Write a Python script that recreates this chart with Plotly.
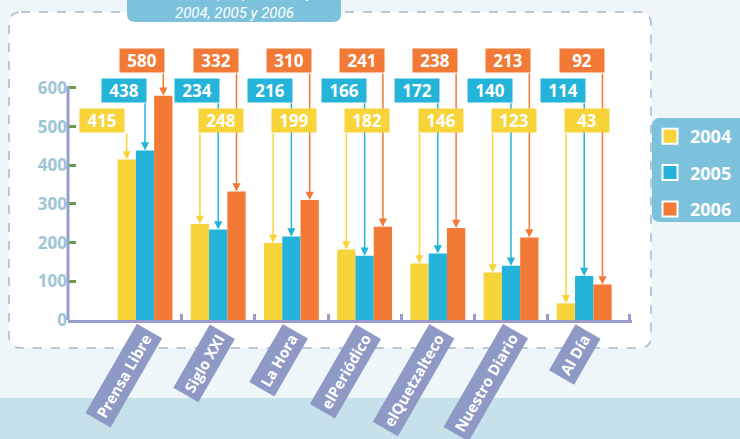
import plotly.graph_objects as go

categories = ["Prensa Libre", "Siglo XXI", "La Hora", "elPeriódico", "elQuetzalteco", "Nuestro Diario", "Al Día"]
years = ["2004", "2005", "2006"]
v2004 = [415, 248, 199, 182, 146, 123, 43]
v2005 = [438, 234, 216, 166, 172, 140, 114]
v2006 = [580, 332, 310, 241, 238, 213, 92]
yticks = [0, 100, 200, 300, 400, 500, 600]

colors = ["#f6d43a", "#25b4d9", "#f27a36"]
series = [v2004, v2005, v2006]

W, H = 740, 439
L, R, T, B = 68, 108, 26, 119
PW, PH = W - L - R, H - T - B
FONT = "Open Sans, Lato, sans-serif"


def pxx(x):
    return (x - L) / PW


def pxy(y):
    return (H - B - y) / PH


def rrect(x0, y0, x1, y1, r, corners="1111"):
    # corners: tl, tr, br, bl
    rx, ry = r / PW, r / PH
    X0, X1 = pxx(x0), pxx(x1)
    Y0, Y1 = pxy(y0), pxy(y1)  # Y0 top (bigger)
    tl, tr, br, bl = [c == "1" for c in corners]
    p = f"M {X0 + (rx if tl else 0)},{Y0} "
    p += f"L {X1 - (rx if tr else 0)},{Y0} "
    if tr:
        p += f"Q {X1},{Y0} {X1},{Y0 - ry} "
    p += f"L {X1},{Y1 + (ry if br else 0)} "
    if br:
        p += f"Q {X1},{Y1} {X1 - rx},{Y1} "
    p += f"L {X0 + (rx if bl else 0)},{Y1} "
    if bl:
        p += f"Q {X0},{Y1} {X0},{Y1 + ry} "
    p += f"L {X0},{Y0 - (ry if tl else 0)} "
    if tl:
        p += f"Q {X0},{Y0} {X0 + rx},{Y0} "
    p += "Z"
    return p


fig = go.Figure()
for yr, vals, col in zip(years, series, colors):
    fig.add_trace(go.Bar(x=list(range(len(categories))), y=vals, name=yr,
                         marker=dict(color=col, line=dict(width=0)),
                         showlegend=False, hoverinfo="y"))
for i, (yr, col) in enumerate(zip(years, colors)):
    fig.add_trace(go.Scatter(x=[None], y=[None], mode="markers", name=yr,
                             legendgroup=yr,
                             marker=dict(symbol="square", size=15, color=col,
                                         line=dict(color="white", width=2))))

shapes = []
# background bottom band
shapes.append(dict(type="rect", xref="paper", yref="paper", x0=pxx(0), x1=pxx(W),
                   y0=pxy(398), y1=pxy(H), fillcolor="#c6e1ea", line=dict(width=0), layer="below"))
# panel
shapes.append(dict(type="path", xref="paper", yref="paper", path=rrect(9, 12, 651, 348, 12),
                   fillcolor="white", line=dict(color="#a3b8c8", width=1.5, dash="dash"), layer="below"))
# title box
shapes.append(dict(type="path", xref="paper", yref="paper", path=rrect(127, -10, 341, 22, 8, "0011"),
                   fillcolor="#7cc2dc", line=dict(width=0), layer="below"))
# legend box
shapes.append(dict(type="path", xref="paper", yref="paper", path=rrect(652, 118, 750, 222, 8, "1001"),
                   fillcolor="#7cc2dc", line=dict(width=0), layer="below"))
# y axis line
shapes.append(dict(type="line", xref="paper", yref="y", x0=0, x1=0, y0=0, y1=605,
                   line=dict(color="#9a9dcb", width=3)))

annotations = []
# title
annotations.append(dict(xref="paper", yref="paper", x=pxx(234), y=pxy(24), xanchor="center", yanchor="bottom",
                        text="publicaciones por periódico y año:<br>2004, 2005 y 2006", showarrow=False,
                        font=dict(family="Liberation Sans Narrow, Roboto, sans-serif", size=15,
                                  color="white", style="italic"), align="center"))

# value boxes and arrows
box_y = [515, 592, 672]        # label box centres (data units)
box_bottom = [486, 564, 641]   # where the connector starts
offsets = [-0.25, 0.0, 0.25]
boxes = []
for s, (vals, col) in enumerate(zip(series, colors)):
    for i, v in enumerate(vals):
        xc = i + offsets[s]
        annotations.append(dict(x=xc, y=v, xref="x", yref="y", axref="x", ayref="y",
                                ax=xc, ay=box_bottom[s], text="", showarrow=True,
                                arrowhead=2, arrowsize=1.1, arrowwidth=1.5, arrowcolor=col))
        if s == 0 and i > 0:
            xa, xs = "left", -2
        else:
            xa, xs = "right", 2
        if s == 0 and i == 0:
            xs = -2
        boxes.append(dict(x=xc, y=box_y[s], xref="x", yref="y", xanchor=xa, yanchor="middle",
                          xshift=xs, text=f"<b>{v}</b>", showarrow=False, bgcolor=col,
                          width=40, height=19, borderpad=2,
                          font=dict(family=FONT, size=17, color="white")))
annotations += boxes

# category label boxes
for i, c in enumerate(categories):
    annotations.append(dict(x=i + 0.24, y=-0.012, xref="x", yref="paper", xanchor="right", yanchor="top",
                            text=f"<b>{c}</b>", showarrow=False, textangle=-60, bgcolor="#8e99c6",
                            borderpad=4, font=dict(family=FONT, size=15, color="white")))

fig.update_layout(
    width=W, height=H,
    margin=dict(l=L, r=R, t=T, b=B, pad=0),
    paper_bgcolor="#eff6f9", plot_bgcolor="rgba(0,0,0,0)",
    barmode="group", bargap=0.25, bargroupgap=0,
    shapes=shapes, annotations=annotations,
    showlegend=True,
    legend=dict(xref="container", yref="container", x=650 / W, y=1 - 118 / H,
                xanchor="left", yanchor="top", bgcolor="rgba(0,0,0,0)",
                font=dict(family=FONT, size=18, color="white", weight="bold"),
                tracegroupgap=10, itemclick=False),
    xaxis=dict(range=[-1.052, 6.653], showgrid=False, zeroline=False, showline=True,
               linecolor="#9a9dcb", linewidth=3, tickmode="array",
               tickvals=[0.5, 1.5, 2.5, 3.5, 4.5, 5.5, 6.62], ticks="inside", ticklen=6, tickwidth=3,
               tickcolor="#9a9dcb", showticklabels=False, fixedrange=True),
    yaxis=dict(range=[0, 760], showgrid=False, zeroline=False, showline=False, tickmode="array",
               tickvals=yticks, ticktext=[str(t) for t in yticks], ticks="inside", ticklen=8, tickwidth=3,
               tickcolor="#6b9a48", tickfont=dict(family=FONT, size=17, color="#9cc6d6", weight="bold"),
               fixedrange=True),
)

fig.write_html("out.html", config={"displayModeBar": False},
               post_script="document.body.style.margin='0';document.body.style.overflow='hidden';")
